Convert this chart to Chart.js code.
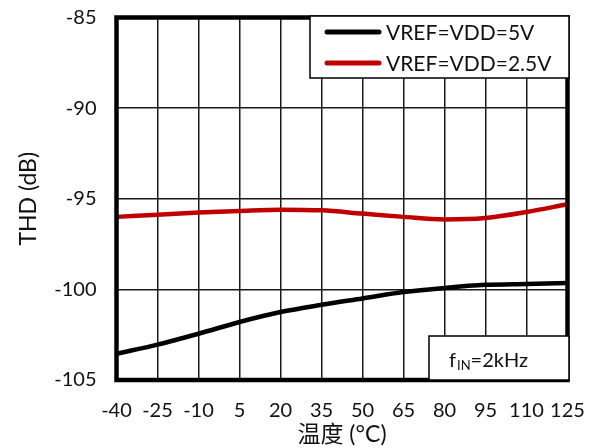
<!DOCTYPE html>
<html><head><meta charset="utf-8">
<script src="https://cdn.jsdelivr.net/npm/chart.js@4.4.0/dist/chart.umd.min.js"></script>
<style>html,body{margin:0;padding:0;background:#fff}#wrap{width:593px;height:448px;position:relative}</style>
</head><body><div id="wrap"><canvas id="c" width="593" height="448"></canvas></div>
<script>
// ---- data ----
const temps = [-40, -25, -10, 5, 20, 35, 50, 65, 80, 95, 110, 125];
const thd5V = [-103.55, -103.05, -102.45, -101.8, -101.25, -100.85, -100.5, -100.15, -99.92, -99.75, -99.7, -99.65];
const thd25V = [-96.0, -95.88, -95.76, -95.67, -95.6, -95.64, -95.82, -96.0, -96.14, -96.06, -95.73, -95.3];
const xTicks = [-40, -25, -10, 5, 20, 35, 50, 65, 80, 95, 110, 125];
const yTicks = [-105, -100, -95, -90, -85];
const seriesLabels = ['VREF=VDD=5V', 'VREF=VDD=2.5V'];
const seriesColors = ['#000000', '#c00000'];
const xTitle = '温度 (°C)';
const yTitle = 'THD (dB)';
const note = { main: 'f', sub: 'IN', rest: '=2kHz' };

const FONT = 'Lato, "Noto Sans CJK SC", sans-serif';

const overlay = {
  id: 'overlay',
  afterDatasetsDraw(chart) {
    const { ctx, chartArea: a } = chart;
    ctx.save();
    // plot frame
    ctx.lineWidth = 4.5;
    ctx.strokeStyle = '#000';
    ctx.strokeRect(a.left, a.top, a.right - a.left, a.bottom - a.top);

    // legend box
    const lx = 310, ly = 16, lw = 259, lh = 62;
    ctx.fillStyle = '#fff';
    ctx.fillRect(lx, ly, lw, lh);
    ctx.lineWidth = 1.5;
    ctx.strokeStyle = '#000';
    ctx.strokeRect(lx, ly, lw, lh);
    ctx.font = '21px ' + FONT;
    ctx.textBaseline = 'middle';
    ctx.textAlign = 'left';
    chart.data.datasets.forEach((ds, i) => {
      const yy = 32 + i * 31;
      ctx.beginPath();
      ctx.lineWidth = 5;
      ctx.lineCap = 'round';
      ctx.strokeStyle = ds.borderColor;
      ctx.moveTo(327, yy);
      ctx.lineTo(379, yy);
      ctx.stroke();
      ctx.fillStyle = '#111';
      ctx.fillText(ds.label, 386, yy + 1);
    });

    // note box
    const nx = 429, ny = 336, nw = 140, nh = 44;
    ctx.fillStyle = '#fff';
    ctx.fillRect(nx, ny, nw, nh);
    ctx.lineWidth = 1.5;
    ctx.lineCap = 'butt';
    ctx.strokeStyle = '#000';
    ctx.strokeRect(nx, ny, nw, nh);
    ctx.fillStyle = '#111';
    ctx.textBaseline = 'alphabetic';
    let tx = 449;
    const base = 367;
    ctx.font = '20px ' + FONT;
    ctx.fillText(note.main, tx, base);
    tx += ctx.measureText(note.main).width + 1;
    ctx.font = '13px ' + FONT;
    ctx.fillText(note.sub, tx, base + 3);
    tx += ctx.measureText(note.sub).width;
    ctx.font = '20px ' + FONT;
    ctx.fillText(note.rest, tx, base);
    ctx.restore();
  }
};

new Chart(document.getElementById('c'), {
  type: 'line',
  data: {
    datasets: [
      { label: seriesLabels[0], data: temps.map((t, i) => ({ x: t, y: thd5V[i] })), borderColor: seriesColors[0], borderWidth: 4.5, pointRadius: 0, tension: 0.4, cubicInterpolationMode: 'monotone', fill: false },
      { label: seriesLabels[1], data: temps.map((t, i) => ({ x: t, y: thd25V[i] })), borderColor: seriesColors[1], borderWidth: 4.5, pointRadius: 0, tension: 0.4, cubicInterpolationMode: 'monotone', fill: false }
    ]
  },
  options: {
    responsive: false,
    animation: false,
    devicePixelRatio: 1,
    layout: { padding: { left: 0, right: 25.5, top: 17.5, bottom: 0 } },
    plugins: { legend: { display: false }, tooltip: { enabled: false } },
    scales: {
      x: {
        type: 'linear', min: -40, max: 125,
        afterBuildTicks: s => { s.ticks = xTicks.map(v => ({ value: v })); },
        afterFit: s => { s.height = 68; s.paddingLeft = 0; s.paddingRight = 0; },
        grid: { color: '#1a1a1a', lineWidth: 1.5, drawTicks: false },
        border: { display: false },
        ticks: { color: '#111', font: { family: FONT, size: 20 }, padding: 18.5, maxRotation: 0, autoSkip: false, callback: v => String(v) },
        title: { display: true, text: xTitle, color: '#111', font: { family: FONT, size: 23 }, padding: { top: -3, bottom: 0 } }
      },
      y: {
        min: -105, max: -85,
        afterBuildTicks: s => { s.ticks = yTicks.map(v => ({ value: v })); },
        afterFit: s => { s.width = 116.5; s.paddingTop = 0; s.paddingBottom = 0; },
        grid: { color: '#1a1a1a', lineWidth: 1.5, drawTicks: false },
        border: { display: false },
        ticks: { color: '#111', font: { family: FONT, size: 20 }, padding: 20, callback: v => String(v) },
        title: { display: true, text: yTitle, color: '#111', font: { family: FONT, size: 23 }, padding: { top: 15, bottom: 0 } }
      }
    }
  },
  plugins: [overlay]
});
</script></body></html>
